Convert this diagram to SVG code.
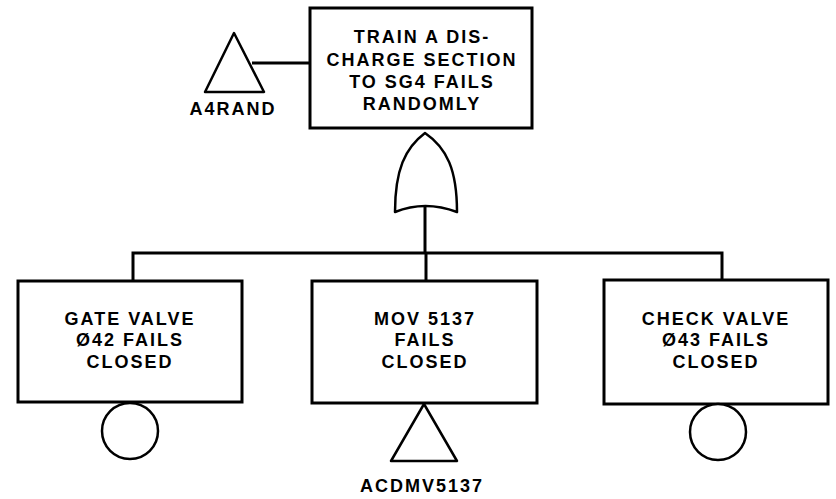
<svg xmlns="http://www.w3.org/2000/svg" width="836" height="499" viewBox="0 0 836 499">
<style>
.box{fill:#fff;stroke:#000;stroke-width:3}
.sym{fill:#fff;stroke:#000;stroke-width:2.5;stroke-linejoin:round}
.ln{fill:none;stroke:#000;stroke-width:3}
text{font-family:"Liberation Sans",Arial,sans-serif;font-weight:bold;font-size:18px;letter-spacing:2px;text-anchor:middle;fill:#000}
</style>
<rect width="836" height="499" fill="#fff"/>
<g id="connectors">
<line class="ln" x1="252" y1="63" x2="310" y2="63"/>
<line class="ln" x1="425" y1="206" x2="425" y2="253"/>
<polyline class="ln" points="133,281 133,253 722,253 722,281"/>
<line class="ln" x1="426" y1="253" x2="426" y2="281"/>
</g>
<g id="top-event">
<rect class="box" x="310" y="8" width="222" height="120"/>
<text x="422" y="43">TRAIN A DIS-</text>
<text x="422" y="66">CHARGE SECTION</text>
<text x="422" y="88">TO SG4 FAILS</text>
<text x="422" y="110">RANDOMLY</text>
</g>
<g id="A4RAND">
<polygon class="sym" points="234,33 264,92 205,92"/>
<text x="233" y="115">A4RAND</text>
</g>
<g id="or-gate">
<path class="sym" d="M425,133 C405,148 395,170 395,212 Q425,200 457,212 C457,170 447,148 425,133 Z"/>
</g>
<g id="gate-valve">
<rect class="box" x="18" y="281" width="224" height="121"/>
<text x="130" y="325">GATE VALVE</text>
<text x="130" y="346">Ø42 FAILS</text>
<text x="130" y="368">CLOSED</text>
<circle class="sym" cx="130" cy="431" r="28"/>
</g>
<g id="mov5137">
<rect class="box" x="312" y="281" width="225" height="122"/>
<text x="425" y="325">MOV 5137</text>
<text x="425" y="346">FAILS</text>
<text x="425" y="368">CLOSED</text>
<polygon class="sym" points="424,404 457,461 391,461"/>
<text x="422" y="492">ACDMV5137</text>
</g>
<g id="check-valve">
<rect class="box" x="604" y="280" width="224" height="124"/>
<text x="716" y="325">CHECK VALVE</text>
<text x="716" y="346">Ø43 FAILS</text>
<text x="716" y="368">CLOSED</text>
<circle class="sym" cx="718" cy="432" r="28"/>
</g>
</svg>
